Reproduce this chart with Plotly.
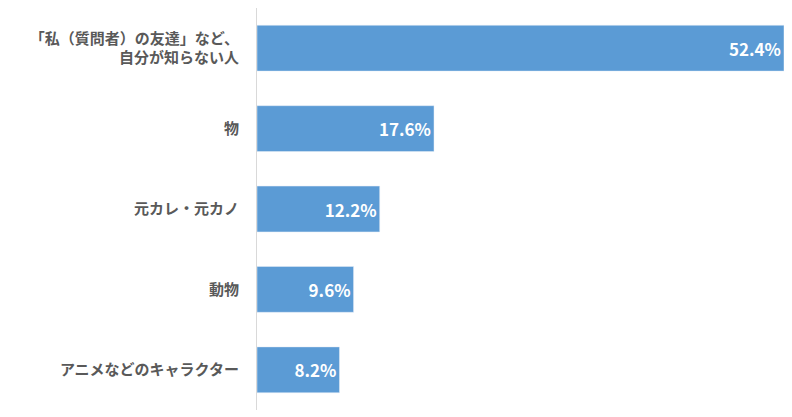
import plotly.graph_objects as go

categories = [
    "「私（質問者）の友達」など、<br>自分が知らない人",
    "物",
    "元カレ・元カノ",
    "動物",
    "アニメなどのキャラクター",
]
values = [52.4, 17.6, 12.2, 9.6, 8.2]
labels = ["{:.1f}%".format(v) for v in values]

fig = go.Figure(go.Bar(
    x=values,
    y=categories,
    orientation="h",
    text=labels,
    textposition="inside",
    insidetextanchor="end",
    textangle=0,
    textfont=dict(color="white", size=17, family="Noto Sans CJK JP", weight="bold"),
    marker=dict(color="#5b9bd5"),
    cliponaxis=False,
))

fig.update_layout(
    width=778,
    height=402,
    margin=dict(l=249, r=0, t=0, b=0),
    plot_bgcolor="white",
    paper_bgcolor="white",
    bargap=0.43,
    showlegend=False,
    font=dict(family="Noto Sans CJK JP", color="#595959", size=15),
    uniformtext=dict(minsize=10, mode="show"),
)
fig.update_xaxes(range=[0, 52.6], visible=False)
fig.update_yaxes(
    autorange="reversed",
    showline=True,
    linecolor="#d9d9d9",
    linewidth=1,
    ticks="",
    ticklabelstandoff=14,
    tickfont=dict(size=15, color="#595959", family="Noto Sans CJK JP", weight="bold"),
)

fig.write_html("out.html")
